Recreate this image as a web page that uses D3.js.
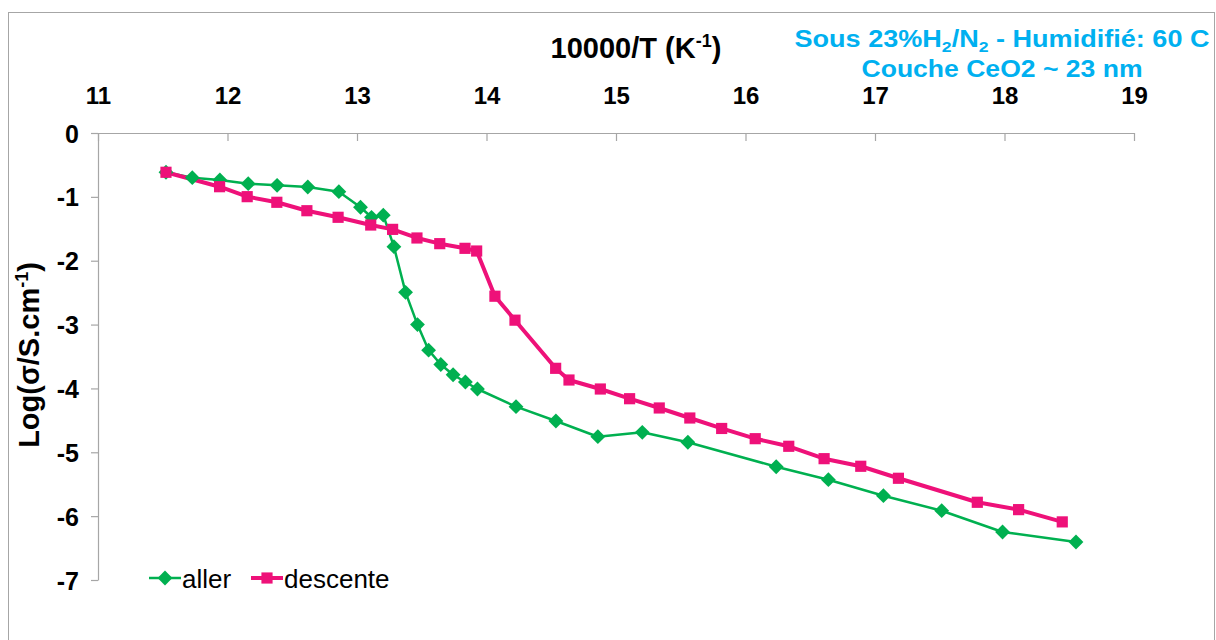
<!DOCTYPE html>
<html>
<head>
<meta charset="utf-8">
<script src="https://cdn.jsdelivr.net/npm/d3@7"></script>
<style>
  html, body { margin: 0; padding: 0; background: #fff; }
  svg { display: block; font-family: "Liberation Sans", Arial, sans-serif; }
</style>
</head>
<body>
<svg id="chart" width="1216" height="640"></svg>
<script>
// Conductivity vs inverse temperature, heating ("aller") and cooling ("descente") runs
const allerX = [11.525, 11.728, 11.941, 12.160, 12.383, 12.620, 12.860, 13.027, 13.112, 13.203,
                13.285, 13.375, 13.467, 13.553, 13.647, 13.742, 13.837, 13.930, 14.228, 14.536,
                14.860, 15.203, 15.555, 16.237, 16.640, 17.065, 17.515, 17.985, 18.552];
const allerY = [-0.615, -0.70, -0.736, -0.794, -0.819, -0.846, -0.919, -1.163, -1.320, -1.287,
                -1.780, -2.495, -3.00, -3.401, -3.625, -3.786, -3.899, -4.009, -4.286, -4.51,
                -4.756, -4.687, -4.843, -5.226, -5.429, -5.680, -5.915, -6.248, -6.405];

const descenteX = [11.525, 11.939, 12.152, 12.381, 12.613, 12.854, 13.106, 13.275, 13.463, 13.639,
                   13.834, 13.924, 14.065, 14.220, 14.534, 14.637, 14.879, 15.105, 15.334, 15.570,
                   15.816, 16.075, 16.334, 16.607, 16.890, 17.181, 17.790, 18.109, 18.446];
const descenteY = [-0.615, -0.841, -0.997, -1.085, -1.217, -1.320, -1.441, -1.509, -1.644, -1.733,
                   -1.806, -1.848, -2.556, -2.931, -3.685, -3.868, -4.009, -4.161, -4.306, -4.463,
                   -4.627, -4.787, -4.906, -5.100, -5.219, -5.407, -5.783, -5.898, -6.090];

const xTicks = [11, 12, 13, 14, 15, 16, 17, 18, 19];
const yTicks = [0, -1, -2, -3, -4, -5, -6, -7];
const seriesNames = ["aller", "descente"];

const GREEN = "#00B050";
const PINK = "#EE1179";
const CYAN = "#00B0F0";

const svg = d3.select("#chart");

// outer frame
svg.append("rect")
  .attr("x", 8.5).attr("y", 12.5)
  .attr("width", 1206).attr("height", 660)
  .attr("fill", "none").attr("stroke", "#a6a6a6").attr("stroke-width", 1);

const x = d3.scaleLinear().domain([11, 19]).range([98, 1134]);
const y = d3.scaleLinear().domain([0, -7]).range([133, 580]);

// plain hyphen-minus labels
const fmt = d => String(d);

// x axis along the top (at y = 0)
const xAxis = svg.append("g")
  .attr("transform", `translate(0,${y(0)})`)
  .call(d3.axisBottom(x).tickValues(xTicks).tickSize(8).tickSizeOuter(0).tickFormat(fmt));
xAxis.select(".domain").attr("stroke", "#a6a6a6").attr("stroke-width", 1.2);
xAxis.selectAll(".tick line").attr("stroke", "#a6a6a6").attr("stroke-width", 1.2);
xAxis.selectAll(".tick text")
  .attr("y", -29).attr("dy", 0)
  .attr("font-size", 24).attr("font-weight", "bold").attr("fill", "#000")
  .attr("font-family", "Liberation Sans, Arial, sans-serif");

// y axis
const yAxis = svg.append("g")
  .attr("transform", `translate(${x(11)},0)`)
  .call(d3.axisLeft(y).tickValues(yTicks).tickSize(7).tickSizeOuter(0).tickFormat(fmt));
yAxis.select(".domain").attr("stroke", "#a6a6a6").attr("stroke-width", 1.2);
yAxis.selectAll(".tick line").attr("stroke", "#a6a6a6").attr("stroke-width", 1.2);
yAxis.selectAll(".tick text")
  .attr("x", -19).attr("dy", "0.36em")
  .attr("font-size", 25).attr("font-weight", "bold").attr("fill", "#000")
  .attr("font-family", "Liberation Sans, Arial, sans-serif");

// axis titles
const xTitle = svg.append("text")
  .attr("x", 636).attr("y", 58)
  .attr("text-anchor", "middle")
  .attr("font-size", 29).attr("font-weight", "bold").attr("fill", "#000");
xTitle.append("tspan").text("10000/T (K");
xTitle.append("tspan").attr("font-size", 18).attr("dy", -11).text("-1");
xTitle.append("tspan").attr("dy", 11).text(")");

const yTitle = svg.append("text")
  .attr("transform", "translate(39,355) rotate(-90)")
  .attr("text-anchor", "middle")
  .attr("font-size", 29).attr("font-weight", "bold").attr("fill", "#000");
yTitle.append("tspan").text("Log(σ/S.cm");
yTitle.append("tspan").attr("font-size", 18).attr("dy", -11).text("-1");
yTitle.append("tspan").attr("dy", 11).text(")");

// condition annotation (slightly widened lettering)
const note1 = svg.append("text")
  .attr("x", 1002).attr("y", 47)
  .attr("text-anchor", "middle")
  .attr("textLength", 415).attr("lengthAdjust", "spacingAndGlyphs")
  .attr("font-size", 23).attr("font-weight", "bold").attr("fill", CYAN);
note1.append("tspan").text("Sous 23%H");
note1.append("tspan").attr("font-size", 15).attr("dy", 5).text("2");
note1.append("tspan").attr("dy", -5).text("/N");
note1.append("tspan").attr("font-size", 15).attr("dy", 5).text("2");
note1.append("tspan").attr("dy", -5).text(" - Humidifié: 60  C");

svg.append("text")
  .attr("x", 1002).attr("y", 77)
  .attr("text-anchor", "middle")
  .attr("textLength", 281).attr("lengthAdjust", "spacingAndGlyphs")
  .attr("font-size", 23).attr("font-weight", "bold").attr("fill", CYAN)
  .text("Couche CeO2 ~ 23 nm");

// series
const aller = allerX.map((v, i) => ({ x: v, y: allerY[i] }));
const descente = descenteX.map((v, i) => ({ x: v, y: descenteY[i] }));

const line = d3.line().x(d => x(d.x)).y(d => y(d.y));

svg.append("path").datum(aller)
  .attr("d", line).attr("fill", "none")
  .attr("stroke", GREEN).attr("stroke-width", 2.5).attr("stroke-linejoin", "round");

svg.append("path").datum(descente)
  .attr("d", line).attr("fill", "none")
  .attr("stroke", PINK).attr("stroke-width", 4).attr("stroke-linejoin", "round");

const diamond = d3.symbol().type(d3.symbolDiamond2).size(140);
const square = d3.symbol().type(d3.symbolSquare).size(125);

svg.append("g").selectAll("path").data(aller).join("path")
  .attr("transform", d => `translate(${x(d.x)},${y(d.y)})`)
  .attr("d", diamond).attr("fill", GREEN);

svg.append("g").selectAll("path").data(descente).join("path")
  .attr("transform", d => `translate(${x(d.x)},${y(d.y)})`)
  .attr("d", square).attr("fill", PINK);

// legend
const legend = svg.append("g").attr("transform", "translate(149,578)");
const legendItems = [
  { name: seriesNames[0], color: GREEN, sym: diamond, w: 2.5, dx: 0 },
  { name: seriesNames[1], color: PINK, sym: square, w: 4, dx: 102 }
];
legendItems.forEach(it => {
  const g = legend.append("g").attr("transform", `translate(${it.dx},0)`);
  g.append("line").attr("x1", 0).attr("x2", 32).attr("y1", 0).attr("y2", 0)
    .attr("stroke", it.color).attr("stroke-width", it.w);
  g.append("path").attr("transform", "translate(16,0)").attr("d", it.sym).attr("fill", it.color);
  g.append("text").attr("x", 33).attr("y", 10)
    .attr("font-size", 26).attr("fill", "#000").text(it.name);
});
</script>
</body>
</html>
